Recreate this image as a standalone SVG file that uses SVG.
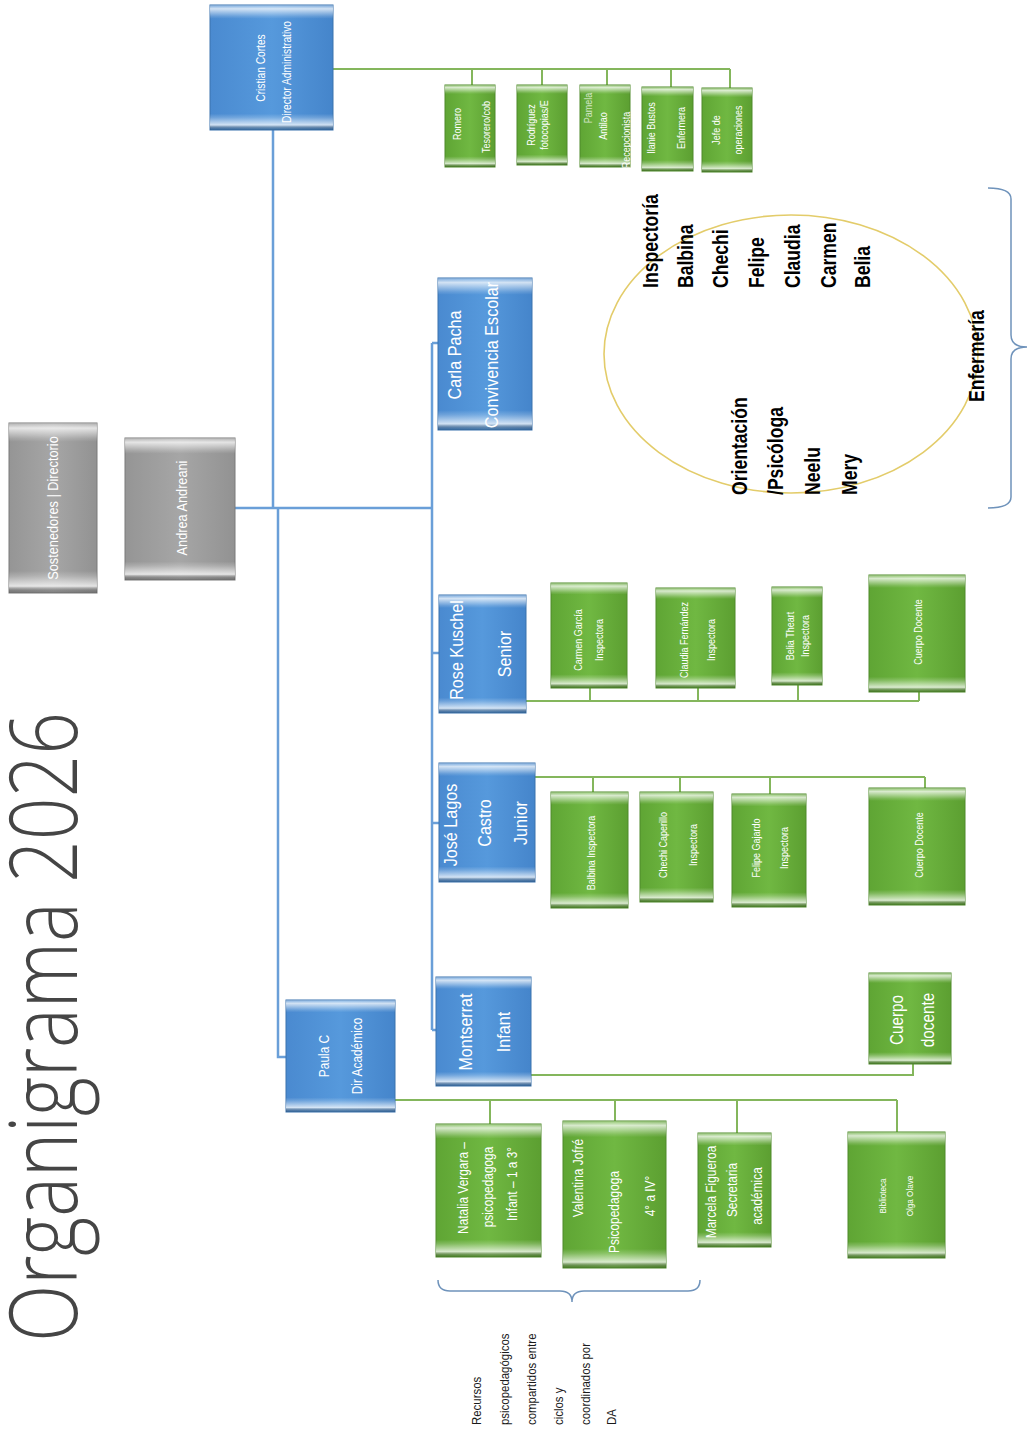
<svg xmlns="http://www.w3.org/2000/svg" width="1036" height="1433" viewBox="0 0 1036 1433">
<style>
.bb{fill:url(#gb);stroke:#3a72ad;stroke-width:1}
.bg{fill:url(#gg);stroke:#4f8a2b;stroke-width:1}
.by{fill:url(#gy);stroke:#7a7a7a;stroke-width:1}
.bev{fill:url(#bev);stroke:none}
.t{font-family:"Liberation Sans",Arial,sans-serif;fill:#ffffff;text-anchor:middle;dominant-baseline:central}
.k{font-family:"Liberation Sans",Arial,sans-serif;fill:#000000;font-weight:bold;text-anchor:start;dominant-baseline:central}
.n{font-family:"Liberation Sans",Arial,sans-serif;fill:#1a1a1a;text-anchor:start;dominant-baseline:central;font-size:13px}
.cb{fill:none;stroke:#6a9fd8;stroke-width:2.5}
.cg{fill:none;stroke:#84b65c;stroke-width:2}
</style>
<defs>
<linearGradient id="gb" x1="0" y1="0" x2="1" y2="0"><stop offset="0" stop-color="#4a8ad0"/><stop offset="0.5" stop-color="#5699dc"/><stop offset="1" stop-color="#4585cb"/></linearGradient>
<linearGradient id="gg" x1="0" y1="0" x2="1" y2="0"><stop offset="0" stop-color="#5fa534"/><stop offset="0.5" stop-color="#70b842"/><stop offset="1" stop-color="#5c9f31"/></linearGradient>
<linearGradient id="gy" x1="0" y1="0" x2="1" y2="0"><stop offset="0" stop-color="#959595"/><stop offset="0.5" stop-color="#a6a6a6"/><stop offset="1" stop-color="#929292"/></linearGradient>
<linearGradient id="bev" x1="0" y1="0" x2="0" y2="1">
<stop offset="0" stop-color="#fff" stop-opacity="0.25"/><stop offset="0.03" stop-color="#fff" stop-opacity="0.75"/><stop offset="0.09" stop-color="#fff" stop-opacity="0.15"/><stop offset="0.11" stop-color="#fff" stop-opacity="0"/>
<stop offset="0.87" stop-color="#fff" stop-opacity="0"/><stop offset="0.9" stop-color="#fff" stop-opacity="0.2"/><stop offset="0.96" stop-color="#fff" stop-opacity="0.75"/><stop offset="1" stop-color="#000" stop-opacity="0.15"/>
</linearGradient>
<clipPath id="cCris"><rect x="210" y="5" width="123" height="125"/></clipPath>
<clipPath id="cCarla"><rect x="438" y="278" width="94" height="152"/></clipPath>
<clipPath id="cRose"><rect x="439" y="595" width="87" height="118"/></clipPath>
<clipPath id="cSost"><rect x="9" y="423" width="88" height="170"/></clipPath>
<clipPath id="cMarc"><rect x="698" y="1133" width="73" height="114"/></clipPath>
</defs>
<rect width="1036" height="1433" fill="#ffffff"/>

<text id="title" transform="translate(77,1342) rotate(-90)" font-family="'Open Sans','Liberation Sans',sans-serif" font-weight="300" font-size="94" fill="#454545" textLength="630" lengthAdjust="spacingAndGlyphs">Organigrama 2026</text>

<g id="connectors">
<path class="cb" d="M273 130 V508 M233 508 H432 M278 508 V1057 H286 M432 343 V1030 M432 343 H438 M432 653 H439 M432 823 H439 M432 1030 H436"/>
<path class="cg" d="M333 69 H730 M472 69 V85 M542 69 V85 M607 69 V85 M671 69 V87 M730 69 V88"/>
<path class="cg" d="M526 701 H919 M590 701 V688 M698 701 V688 M798 701 V685 M919 701 V692"/>
<path class="cg" d="M535 777 H925 M593 777 V792 M680 777 V792 M770 777 V794 M925 777 V788"/>
<path class="cg" d="M531 1075 H913 V1064"/>
<path class="cg" d="M395 1100 H897 M490 1100 V1124 M615 1100 V1121 M737 1100 V1133 M897 1100 V1132"/>
</g>

<g id="n-sostenedores"><rect class="by" x="9" y="423" width="88" height="170"/><rect class="bev" x="9" y="423" width="88" height="170"/>
<g clip-path="url(#cSost)"><text class="t" font-size="15" transform="translate(53,508) rotate(-90) scale(0.85,1)">Sostenedores | Directorio</text></g></g>

<g id="n-andrea"><rect class="by" x="125" y="438" width="110" height="142"/><rect class="bev" x="125" y="438" width="110" height="142"/>
<text class="t" font-size="15" transform="translate(182,508) rotate(-90) scale(0.85,1)">Andrea Andreani</text></g>

<g id="n-cristian"><rect class="bb" x="210" y="5" width="123" height="125"/><rect class="bev" x="210" y="5" width="123" height="125"/>
<g clip-path="url(#cCris)"><text class="t" font-size="12" transform="translate(261,68) rotate(-90) scale(0.85,1)">Cristian Cortes</text>
<text class="t" font-size="12" transform="translate(287,72) rotate(-90) scale(0.85,1)">Director Administrativo</text></g></g>

<g id="n-romero"><rect class="bg" x="445" y="85" width="50" height="82"/><rect class="bev" x="445" y="85" width="50" height="82"/>
<text class="t" font-size="10" transform="translate(457,124) rotate(-90) scale(0.9,1)">Romero</text>
<text class="t" font-size="10" transform="translate(486,127) rotate(-90) scale(0.9,1)">Tesorero/cob</text></g>

<g id="n-rodriguez"><rect class="bg" x="517" y="85" width="50" height="80"/><rect class="bev" x="517" y="85" width="50" height="80"/>
<text class="t" font-size="10" transform="translate(531,125) rotate(-90) scale(0.9,1)">Rodríguez</text>
<text class="t" font-size="10" transform="translate(544,125) rotate(-90) scale(0.9,1)">fotocopias/E</text></g>

<g id="n-pamela"><rect class="bg" x="580" y="85" width="50" height="82"/><rect class="bev" x="580" y="85" width="50" height="82"/>
<text class="t" font-size="10" transform="translate(588,108) rotate(-90) scale(0.9,1)" opacity="0.7">Pamela</text>
<text class="t" font-size="10" transform="translate(603,126) rotate(-90) scale(0.9,1)">Antilao</text>
<text class="t" font-size="10" transform="translate(626,140) rotate(-90) scale(0.9,1)" fill="#5a7a4a">Recepcionista</text></g>

<g id="n-ilanie"><rect class="bg" x="642" y="87" width="51" height="84"/><rect class="bev" x="642" y="87" width="51" height="84"/>
<text class="t" font-size="10" transform="translate(651,128) rotate(-90) scale(0.9,1)">Ilanie Bustos</text>
<text class="t" font-size="10" transform="translate(681,128) rotate(-90) scale(0.9,1)">Enfermera</text></g>

<g id="n-jefe"><rect class="bg" x="702" y="88" width="50" height="84"/><rect class="bev" x="702" y="88" width="50" height="84"/>
<text class="t" font-size="10" transform="translate(716,130) rotate(-90) scale(0.9,1)">Jefe de</text>
<text class="t" font-size="10" transform="translate(738,130) rotate(-90) scale(0.9,1)">operaciones</text></g>

<g id="n-carla"><rect class="bb" x="438" y="278" width="94" height="152"/><rect class="bev" x="438" y="278" width="94" height="152"/>
<g clip-path="url(#cCarla)"><text class="t" font-size="19" transform="translate(455,355) rotate(-90) scale(0.85,1)">Carla Pacha</text>
<text class="t" font-size="19" transform="translate(492,355) rotate(-90) scale(0.85,1)">Convivencia Escolar</text></g></g>

<g id="circle">
<ellipse cx="791" cy="354" rx="187" ry="139" fill="none" stroke="#e3cc6a" stroke-width="1.6"/>
<text class="k" font-size="22" transform="translate(650,288) rotate(-90) scale(0.8,1)">Inspectoría</text>
<text class="k" font-size="22" transform="translate(685,288) rotate(-90) scale(0.8,1)">Balbina</text>
<text class="k" font-size="22" transform="translate(720,288) rotate(-90) scale(0.8,1)">Chechi</text>
<text class="k" font-size="22" transform="translate(756,288) rotate(-90) scale(0.8,1)">Felipe</text>
<text class="k" font-size="22" transform="translate(792,288) rotate(-90) scale(0.8,1)">Claudia</text>
<text class="k" font-size="22" transform="translate(828,288) rotate(-90) scale(0.8,1)">Carmen</text>
<text class="k" font-size="22" transform="translate(862,288) rotate(-90) scale(0.8,1)">Belia</text>
<text class="k" font-size="22" transform="translate(739,495) rotate(-90) scale(0.8,1)">Orientación</text>
<text class="k" font-size="22" transform="translate(775,495) rotate(-90) scale(0.8,1)">/Psicóloga</text>
<text class="k" font-size="22" transform="translate(812,495) rotate(-90) scale(0.8,1)">Neelu</text>
<text class="k" font-size="22" transform="translate(849,495) rotate(-90) scale(0.8,1)">Mery</text>
<text class="k" font-size="22" transform="translate(976,402) rotate(-90) scale(0.8,1)">Enfermería</text>
<path d="M988 188 Q1011 188 1011 199 V335 Q1011 347 1027 347 Q1011 347 1011 359 V497 Q1011 508 988 508" fill="none" stroke="#6f93bb" stroke-width="1.5"/>
</g>

<g id="n-rose"><rect class="bb" x="439" y="595" width="87" height="118"/><rect class="bev" x="439" y="595" width="87" height="118"/>
<g clip-path="url(#cRose)"><text class="t" font-size="19" transform="translate(457,650) rotate(-90) scale(0.85,1)">Rose Kuschel</text>
<text class="t" font-size="19" transform="translate(505,654) rotate(-90) scale(0.85,1)">Senior</text></g></g>

<g id="n-carmen"><rect class="bg" x="551" y="583" width="76" height="105"/><rect class="bev" x="551" y="583" width="76" height="105"/>
<text class="t" font-size="10" transform="translate(578,640) rotate(-90) scale(0.9,1)">Carmen García</text>
<text class="t" font-size="10" transform="translate(599,640) rotate(-90) scale(0.9,1)">Inspectora</text></g>

<g id="n-claudia"><rect class="bg" x="656" y="588" width="79" height="100"/><rect class="bev" x="656" y="588" width="79" height="100"/>
<text class="t" font-size="10" transform="translate(684,640) rotate(-90) scale(0.9,1)">Claudia Fernández</text>
<text class="t" font-size="10" transform="translate(711,640) rotate(-90) scale(0.9,1)">Inspectora</text></g>

<g id="n-belia"><rect class="bg" x="772" y="587" width="50" height="98"/><rect class="bev" x="772" y="587" width="50" height="98"/>
<text class="t" font-size="10" transform="translate(790,636) rotate(-90) scale(0.9,1)">Belia Theart</text>
<text class="t" font-size="10" transform="translate(805,636) rotate(-90) scale(0.9,1)">Inspectora</text></g>

<g id="n-cuerpo-senior"><rect class="bg" x="869" y="575" width="96" height="117"/><rect class="bev" x="869" y="575" width="96" height="117"/>
<text class="t" font-size="10" transform="translate(918,632) rotate(-90) scale(0.9,1)">Cuerpo Docente</text></g>

<g id="n-jose"><rect class="bb" x="439" y="763" width="96" height="119"/><rect class="bev" x="439" y="763" width="96" height="119"/>
<text class="t" font-size="19" transform="translate(451,825) rotate(-90) scale(0.85,1)">José Lagos</text>
<text class="t" font-size="19" transform="translate(485,823) rotate(-90) scale(0.85,1)">Castro</text>
<text class="t" font-size="19" transform="translate(521,823) rotate(-90) scale(0.85,1)">Junior</text></g>

<g id="n-balbina"><rect class="bg" x="551" y="792" width="77" height="116"/><rect class="bev" x="551" y="792" width="77" height="116"/>
<text class="t" font-size="10" transform="translate(591,853) rotate(-90) scale(0.9,1)">Balbina Inspectora</text></g>

<g id="n-chechi"><rect class="bg" x="640" y="792" width="73" height="110"/><rect class="bev" x="640" y="792" width="73" height="110"/>
<text class="t" font-size="10" transform="translate(663,845) rotate(-90) scale(0.9,1)">Chechi Caperillo</text>
<text class="t" font-size="10" transform="translate(693,845) rotate(-90) scale(0.9,1)">Inspectora</text></g>

<g id="n-felipe"><rect class="bg" x="732" y="794" width="74" height="113"/><rect class="bev" x="732" y="794" width="74" height="113"/>
<text class="t" font-size="10" transform="translate(756,848) rotate(-90) scale(0.9,1)">Felipe Gajardo</text>
<text class="t" font-size="10" transform="translate(784,848) rotate(-90) scale(0.9,1)">Inspectora</text></g>

<g id="n-cuerpo-junior"><rect class="bg" x="869" y="788" width="96" height="117"/><rect class="bev" x="869" y="788" width="96" height="117"/>
<text class="t" font-size="10" transform="translate(919,845) rotate(-90) scale(0.9,1)">Cuerpo Docente</text></g>

<g id="n-montserrat"><rect class="bb" x="436" y="977" width="95" height="109"/><rect class="bev" x="436" y="977" width="95" height="109"/>
<text class="t" font-size="19" transform="translate(466,1032) rotate(-90) scale(0.85,1)">Montserrat</text>
<text class="t" font-size="19" transform="translate(504,1032) rotate(-90) scale(0.85,1)">Infant</text></g>

<g id="n-cuerpo-infant"><rect class="bg" x="869" y="973" width="82" height="91"/><rect class="bev" x="869" y="973" width="82" height="91"/>
<text class="t" font-size="18" transform="translate(897,1020) rotate(-90) scale(0.85,1)">Cuerpo</text>
<text class="t" font-size="18" transform="translate(928,1020) rotate(-90) scale(0.85,1)">docente</text></g>

<g id="n-paula"><rect class="bb" x="286" y="1000" width="109" height="112"/><rect class="bev" x="286" y="1000" width="109" height="112"/>
<text class="t" font-size="14" transform="translate(324,1056) rotate(-90) scale(0.85,1)">Paula C</text>
<text class="t" font-size="14" transform="translate(357,1056) rotate(-90) scale(0.85,1)">Dir Académico</text></g>

<g id="n-natalia"><rect class="bg" x="436" y="1124" width="105" height="133"/><rect class="bev" x="436" y="1124" width="105" height="133"/>
<text class="t" font-size="14" transform="translate(463,1188) rotate(-90) scale(0.85,1)">Natalia Vergara –</text>
<text class="t" font-size="14" transform="translate(488,1187) rotate(-90) scale(0.85,1)">psicopedagoga</text>
<text class="t" font-size="14" transform="translate(512,1184) rotate(-90) scale(0.85,1)">Infant – 1 a 3°</text></g>

<g id="n-valentina"><rect class="bg" x="563" y="1121" width="103" height="147"/><rect class="bev" x="563" y="1121" width="103" height="147"/>
<text class="t" font-size="14" transform="translate(578,1178) rotate(-90) scale(0.85,1)">Valentina Jofré</text>
<text class="t" font-size="14" transform="translate(614,1212) rotate(-90) scale(0.85,1)">Psicopedagoga</text>
<text class="t" font-size="14" transform="translate(650,1196) rotate(-90) scale(0.85,1)">4° a IV°</text></g>

<g id="n-marcela"><rect class="bg" x="698" y="1133" width="73" height="114"/><rect class="bev" x="698" y="1133" width="73" height="114"/>
<g clip-path="url(#cMarc)"><text class="t" font-size="14" transform="translate(711,1192) rotate(-90) scale(0.85,1)">Marcela Figueroa</text></g>
<text class="t" font-size="14" transform="translate(732,1190) rotate(-90) scale(0.85,1)">Secretaria</text>
<text class="t" font-size="14" transform="translate(757,1196) rotate(-90) scale(0.85,1)">académica</text></g>

<g id="n-biblioteca"><rect class="bg" x="848" y="1132" width="97" height="126"/><rect class="bev" x="848" y="1132" width="97" height="126"/>
<text class="t" font-size="9" transform="translate(883,1196) rotate(-90) scale(0.9,1)">Biblioteca</text>
<text class="t" font-size="9" transform="translate(910,1196) rotate(-90) scale(0.9,1)">Olga Olave</text></g>

<g id="recursos">
<path d="M438 1280 Q438 1291 450 1291 H560 Q572 1291 572 1302 Q572 1291 584 1291 H688 Q700 1291 700 1280" fill="none" stroke="#6f93bb" stroke-width="1.5"/>
<text class="n" transform="translate(477,1425) rotate(-90) scale(0.88,1)">Recursos</text>
<text class="n" transform="translate(505,1425) rotate(-90) scale(0.88,1)">psicopedagógicos</text>
<text class="n" transform="translate(532,1425) rotate(-90) scale(0.88,1)">compartidos entre</text>
<text class="n" transform="translate(559,1425) rotate(-90) scale(0.88,1)">ciclos y</text>
<text class="n" transform="translate(586,1425) rotate(-90) scale(0.88,1)">coordinados por</text>
<text class="n" transform="translate(612,1425) rotate(-90) scale(0.88,1)">DA</text>
</g>
</svg>
